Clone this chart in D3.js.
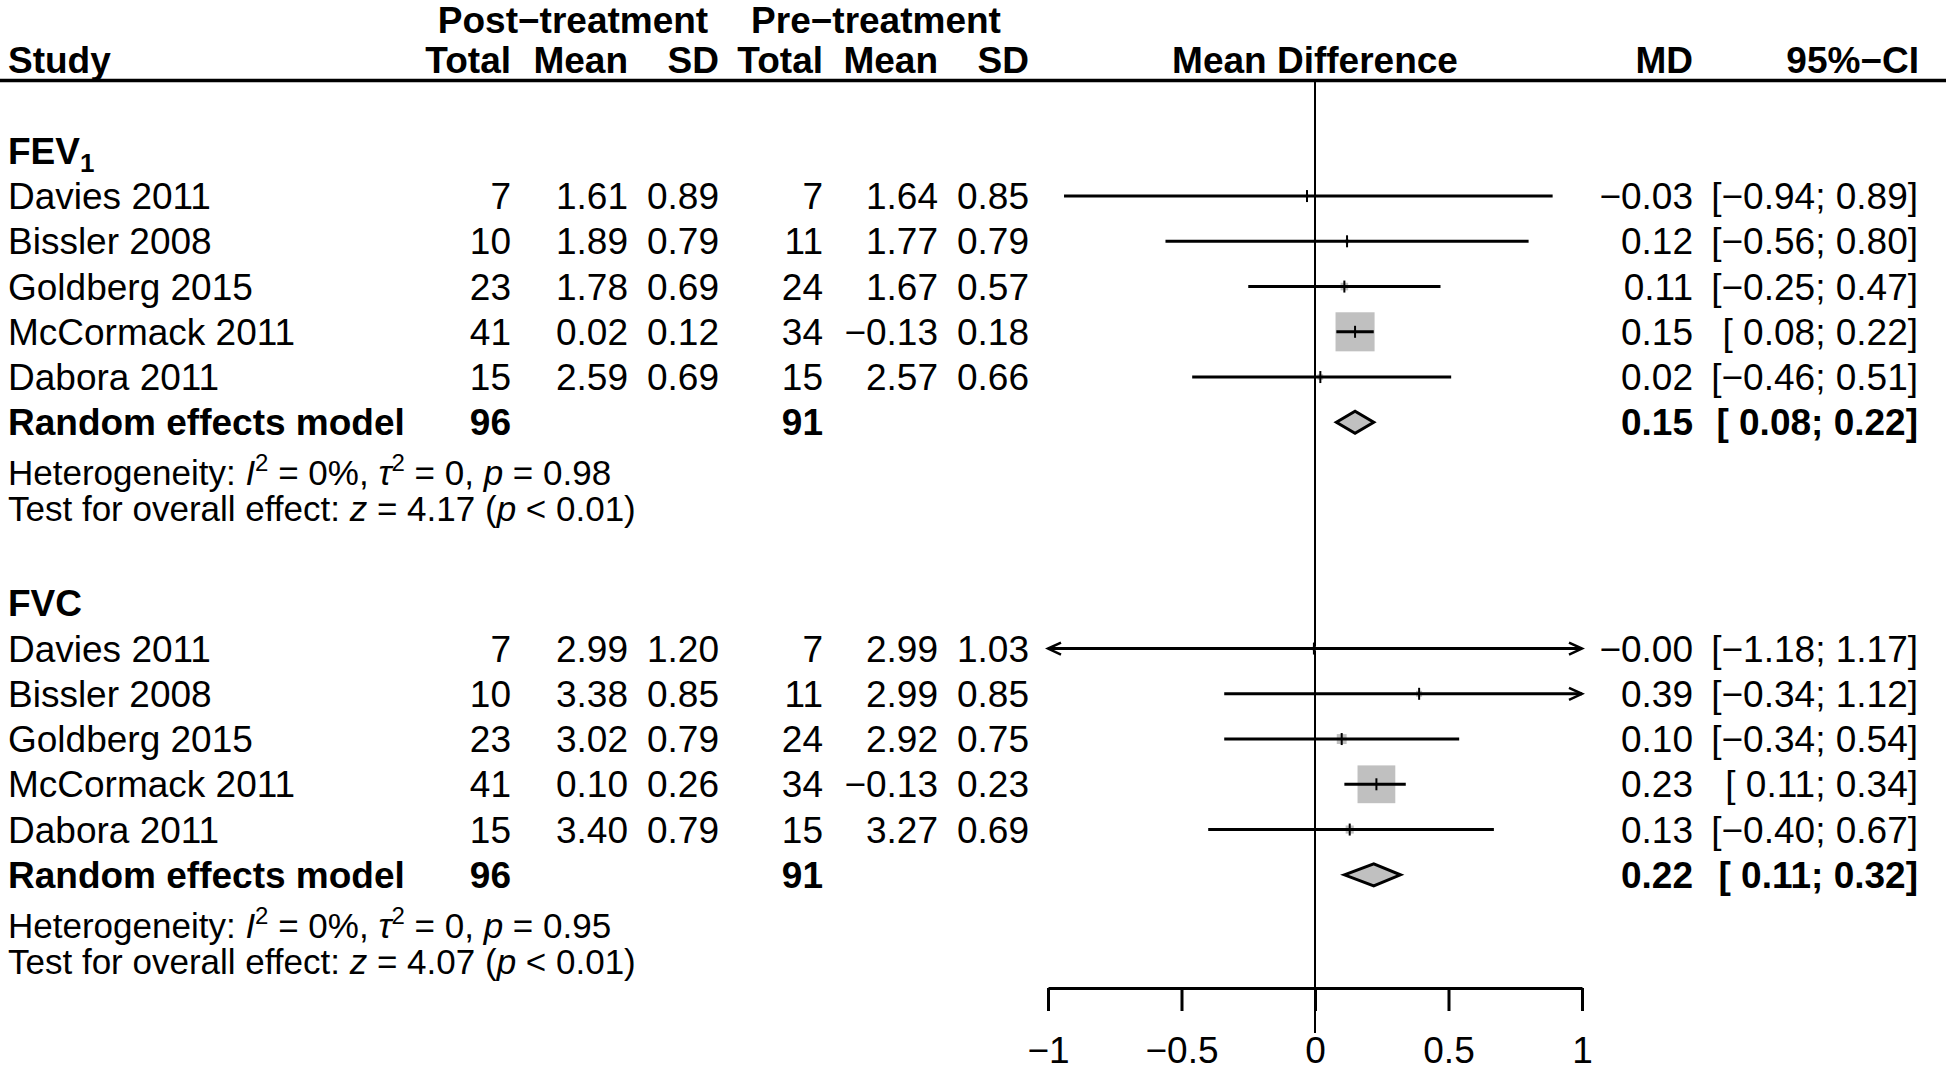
<!DOCTYPE html>
<html><head><meta charset="utf-8">
<script src="https://cdn.jsdelivr.net/npm/d3@7"></script>
<style>
html,body{margin:0;padding:0;background:#fff;}
svg{display:block;}
text{font-family:"Liberation Sans",Arial,Helvetica,sans-serif;fill:#000;}
</style></head><body>
<svg id="chart" width="1946" height="1071"></svg>
<script>
// ---------------- DATA ----------------
const studies = ["Davies 2011","Bissler 2008","Goldberg 2015","McCormack 2011","Dabora 2011"];
const groupHeaders = ["Post\u2212treatment","Pre\u2212treatment"];
const columnHeaders = ["Total","Mean","SD","Total","Mean","SD"];
const axisTicks = [-1,-0.5,0,0.5,1];

// FEV1
const fev1PostTotal = [7,10,23,41,15];
const fev1PostMean  = [1.61,1.89,1.78,0.02,2.59];
const fev1PostSD    = [0.89,0.79,0.69,0.12,0.69];
const fev1PreTotal  = [7,11,24,34,15];
const fev1PreMean   = [1.64,1.77,1.67,-0.13,2.57];
const fev1PreSD     = [0.85,0.79,0.57,0.18,0.66];
const fev1MD        = [-0.03,0.12,0.11,0.15,0.02];
const fev1Lower     = [-0.94,-0.56,-0.25,0.08,-0.46];
const fev1Upper     = [0.89,0.80,0.47,0.22,0.51];
const fev1Random    = [0.15,0.08,0.22]; // MD, lower, upper
const fev1Het       = ["0%","0","0.98"]; // I2, tau2, p
const fev1Test      = ["4.17","< 0.01"]; // z, p

// FVC
const fvcPostTotal = [7,10,23,41,15];
const fvcPostMean  = [2.99,3.38,3.02,0.10,3.40];
const fvcPostSD    = [1.20,0.85,0.79,0.26,0.79];
const fvcPreTotal  = [7,11,24,34,15];
const fvcPreMean   = [2.99,2.99,2.92,-0.13,3.27];
const fvcPreSD     = [1.03,0.85,0.75,0.23,0.69];
const fvcMD        = [-0.004,0.39,0.10,0.23,0.13]; // shown as −0.00
const fvcLower     = [-1.18,-0.34,-0.34,0.11,-0.40];
const fvcUpper     = [1.17,1.12,0.54,0.34,0.67];
const fvcRandom    = [0.22,0.11,0.32];
const fvcHet       = ["0%","0","0.95"];
const fvcTest      = ["4.07","< 0.01"];

// ---------------- LAYOUT ----------------
const W = 1946, H = 1071;
const svg = d3.select("#chart");
svg.append("rect").attr("width",W).attr("height",H).attr("fill","#fff");

const x = d3.scaleLinear().domain([-1,1]).range([1048,1582]);
const rowH = 45.25, row0 = 150.8;
const cy = k => row0 + k*rowH;
const FS = 37, FS2 = 35;
const colX = [511,628,719,823,938,1029];
const mdX = 1693, ciX = 1918, studyX = 8;
const boxMax = 40.5;

const fmt2 = v => (v < 0 ? "\u2212" : "") + Math.abs(v).toFixed(2);
const fmtCI = (l,u) => "[" + (l < 0 ? "" : " ") + fmt2(l) + "; " + fmt2(u) + "]";

function txt(xp, yp, s, anchor, bold, size) {
  return svg.append("text").attr("x",xp).attr("y",yp)
    .attr("text-anchor",anchor||"start")
    .attr("font-weight",bold?"bold":"normal")
    .attr("font-size",size||FS).text(s);
}

// ---------------- HEADER ----------------
txt(573, 33, groupHeaders[0], "middle", true);
txt(876, 33, groupHeaders[1], "middle", true);
const hy = cy(-2) + 13;
txt(studyX, hy, "Study", "start", true);
columnHeaders.forEach((h,i) => txt(colX[i], hy, h, "end", true));
txt(x(0), hy, "Mean Difference", "middle", true);
txt(mdX, hy, "MD", "end", true);
txt(ciX+1, hy, "95%\u2212CI", "end", true);

svg.append("line").attr("x1",0).attr("x2",W).attr("y1",80.5).attr("y2",80.5)
  .attr("stroke","#000").attr("stroke-width",3.5);

// zero reference line
svg.append("line").attr("x1",x(0)).attr("x2",x(0)).attr("y1",82).attr("y2",1033)
  .attr("stroke","#000").attr("stroke-width",2);

// ---------------- GROUPS ----------------
const groups = [
  {title:"FEV", sub:"1", k0:0, postTotal:fev1PostTotal, postMean:fev1PostMean, postSD:fev1PostSD,
   preTotal:fev1PreTotal, preMean:fev1PreMean, preSD:fev1PreSD, md:fev1MD, lower:fev1Lower, upper:fev1Upper,
   random:fev1Random, het:fev1Het, test:fev1Test},
  {title:"FVC", sub:"", k0:10, postTotal:fvcPostTotal, postMean:fvcPostMean, postSD:fvcPostSD,
   preTotal:fvcPreTotal, preMean:fvcPreMean, preSD:fvcPreSD, md:fvcMD, lower:fvcLower, upper:fvcUpper,
   random:fvcRandom, het:fvcHet, test:fvcTest}
];

groups.forEach(g => {
  // title
  const t = txt(studyX, cy(g.k0)+13, g.title, "start", true);
  if (g.sub) t.append("tspan").attr("font-size",26).attr("dy",8).text(g.sub);

  // weights (inverse variance from CI)
  const w = studies.map((s,i) => { const se = (g.upper[i]-g.lower[i])/3.92; return 1/(se*se); });
  const wsum = d3.sum(w);

  studies.forEach((s,i) => {
    const yc = cy(g.k0+1+i), yb = yc + 13;
    txt(studyX, yb, s);
    const vals = [String(g.postTotal[i]), fmt2(g.postMean[i]), fmt2(g.postSD[i]),
                  String(g.preTotal[i]), fmt2(g.preMean[i]), fmt2(g.preSD[i])];
    vals.forEach((v,j) => txt(colX[j], yb, v, "end"));
    txt(mdX, yb, fmt2(g.md[i]), "end");
    txt(ciX, yb, fmtCI(g.lower[i], g.upper[i]), "end");

    // box
    const sz = boxMax*Math.sqrt(w[i]/wsum);
    svg.append("rect").attr("x",x(g.md[i])-sz/2).attr("y",yc-sz/2)
      .attr("width",sz).attr("height",sz).attr("fill","#c0c0c0");
    // CI line
    const l = Math.max(g.lower[i],-1), u = Math.min(g.upper[i],1);
    svg.append("line").attr("x1",x(l)).attr("x2",x(u)).attr("y1",yc).attr("y2",yc)
      .attr("stroke","#000").attr("stroke-width",3);
    if (g.lower[i] < -1) {
      svg.append("path").attr("d",`M${x(-1)+13},${yc-6}L${x(-1)},${yc}L${x(-1)+13},${yc+6}`)
        .attr("fill","none").attr("stroke","#000").attr("stroke-width",2.5);
    }
    if (g.upper[i] > 1) {
      svg.append("path").attr("d",`M${x(1)-13},${yc-6}L${x(1)},${yc}L${x(1)-13},${yc+6}`)
        .attr("fill","none").attr("stroke","#000").attr("stroke-width",2.5);
    }
    // estimate tick
    svg.append("line").attr("x1",x(g.md[i])).attr("x2",x(g.md[i])).attr("y1",yc-6).attr("y2",yc+6)
      .attr("stroke","#000").attr("stroke-width",2);
  });

  // random effects row
  const kr = g.k0+6, yr = cy(kr), ybr = yr+13;
  txt(studyX, ybr, "Random effects model", "start", true);
  txt(colX[0], ybr, String(d3.sum(g.postTotal)), "end", true);
  txt(colX[3], ybr, String(d3.sum(g.preTotal)), "end", true);
  txt(mdX, ybr, fmt2(g.random[0]), "end", true);
  txt(ciX, ybr, fmtCI(g.random[1], g.random[2]), "end", true);
  const [m, lo, hi] = g.random;
  svg.append("polygon")
    .attr("points", [[x(lo),yr],[x(m),yr-11],[x(hi),yr],[x(m),yr+11]].map(p=>p.join(",")).join(" "))
    .attr("fill","#c0c0c0").attr("stroke","#000").attr("stroke-width",3).attr("stroke-linejoin","miter");

  // heterogeneity text
  const h1 = svg.append("text").attr("x",studyX).attr("y",yr+63).attr("font-size",FS2);
  h1.append("tspan").text("Heterogeneity: ");
  h1.append("tspan").attr("font-style","italic").text("I");
  h1.append("tspan").attr("font-size",24).attr("dy",-14).text("2");
  h1.append("tspan").attr("dy",14).text(" = " + g.het[0] + ", ");
  h1.append("tspan").attr("font-style","italic").text("\u03c4");
  h1.append("tspan").attr("font-size",24).attr("dy",-14).text("2");
  h1.append("tspan").attr("dy",14).text(" = " + g.het[1] + ", ");
  h1.append("tspan").attr("font-style","italic").text("p");
  h1.append("tspan").text(" = " + g.het[2]);

  const h2 = svg.append("text").attr("x",studyX).attr("y",yr+99).attr("font-size",FS2);
  h2.append("tspan").text("Test for overall effect: ");
  h2.append("tspan").attr("font-style","italic").text("z");
  h2.append("tspan").text(" = " + g.test[0] + " (");
  h2.append("tspan").attr("font-style","italic").text("p");
  h2.append("tspan").text(" " + g.test[1] + ")");
});

// ---------------- AXIS ----------------
const axis = d3.axisBottom(x).tickValues(axisTicks).tickSize(23).tickSizeOuter(0).tickPadding(26)
  .tickFormat(v => (v < 0 ? "\u2212" : "") + Math.abs(v));
const ag = svg.append("g").attr("transform","translate(0,988)").call(axis);
ag.attr("font-size",FS).attr("font-family",null);
ag.select(".domain").attr("stroke","#000").attr("stroke-width",3);
ag.selectAll(".tick line").attr("stroke","#000").attr("stroke-width",3);
ag.selectAll(".tick text").attr("fill","#000").attr("font-size",FS);
</script>
</body></html>
